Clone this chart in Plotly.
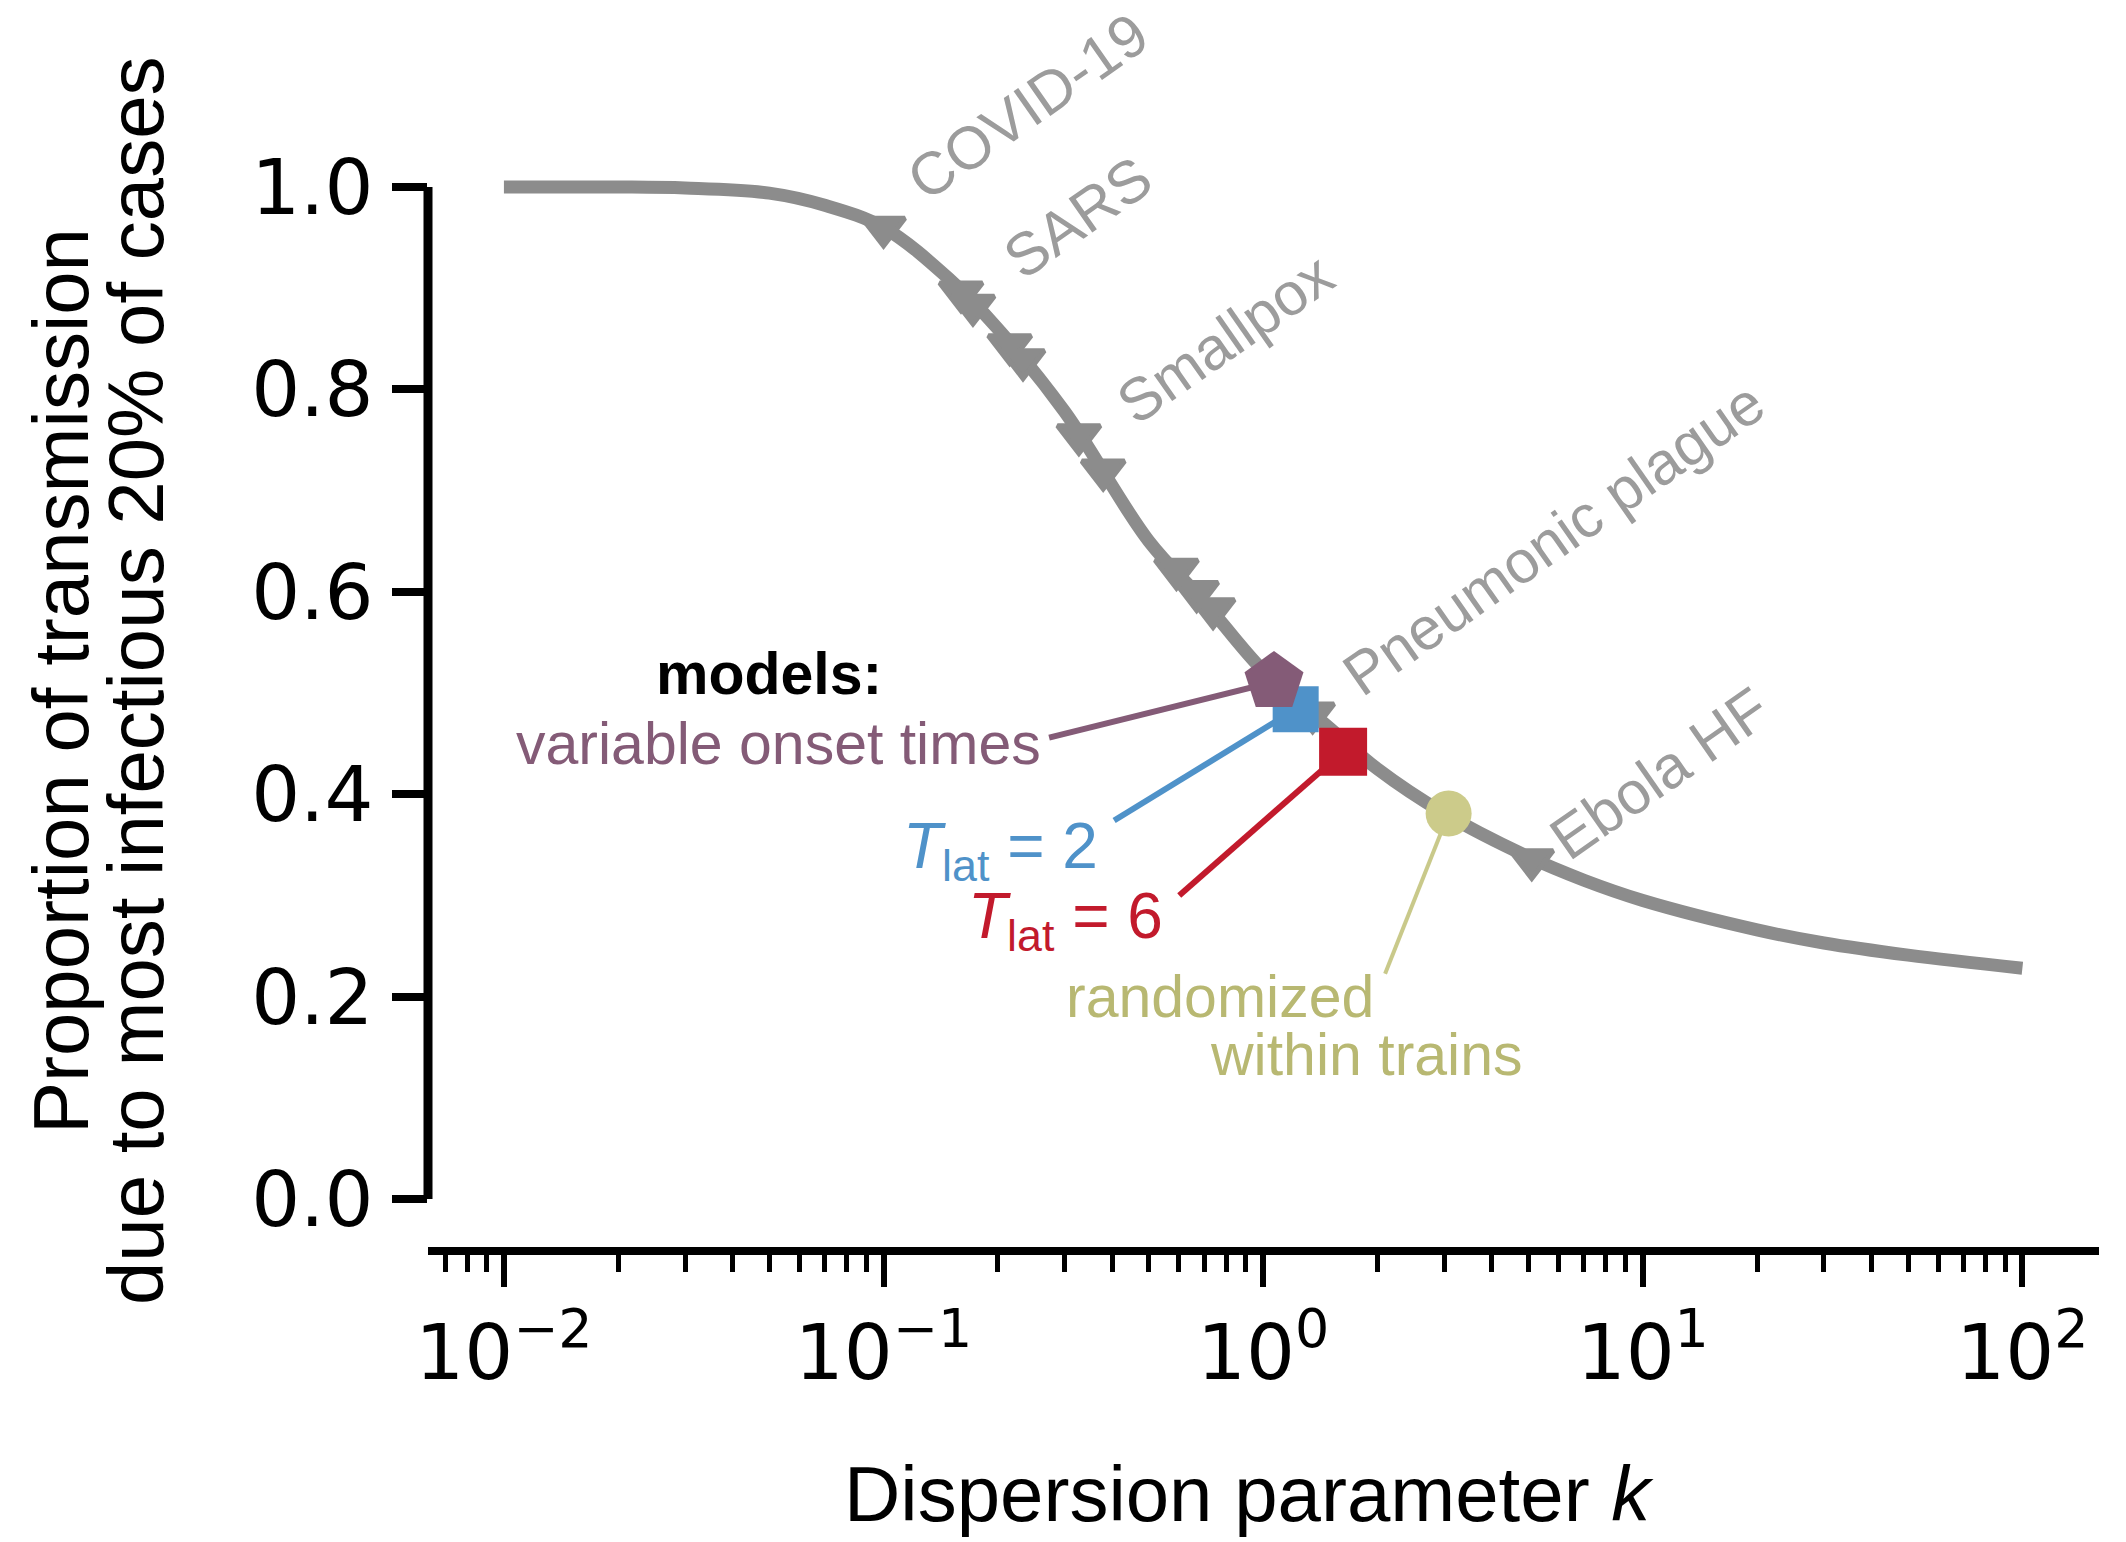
import math
import plotly.graph_objects as go

# ---------------- data ----------------
curve_k = [0.01, 0.02, 0.03, 0.05, 0.07, 0.1, 0.15, 0.2, 0.3, 0.5, 0.7,
           1.0, 1.5, 2.0, 3.0, 5.0, 7.0, 10.0, 20.0, 30.0, 50.0, 100.0]
curve_p = [1.000, 1.000, 0.999, 0.994, 0.982, 0.960, 0.908, 0.860, 0.778, 0.650, 0.590,
           0.522, 0.465, 0.425, 0.381, 0.338, 0.315, 0.295, 0.266, 0.253, 0.241, 0.228]

disease_k = [0.10, 0.16, 0.172, 0.215, 0.233, 0.327, 0.379, 0.591, 0.668, 0.738, 1.35, 5.1]
disease_p = [0.960, 0.896, 0.883, 0.844, 0.829, 0.755, 0.720, 0.622, 0.600, 0.583, 0.480, 0.335]

disease_labels = ["COVID-19", "SARS", "Smallpox", "Pneumonic plague", "Ebola HF"]

model_names = ["variable onset times", "T_lat = 2", "T_lat = 6", "randomized within trains"]
model_k = [1.068, 1.218, 1.624, 3.08]
model_p = [0.511, 0.484, 0.442, 0.381]

x_tickvals = [0.01, 0.1, 1, 10, 100]
x_ticktext = ["10<sup>\u22122</sup>", "10<sup>\u22121</sup>", "10<sup>0</sup>",
              "10<sup>1</sup>", "10<sup>2</sup>"]
y_tickvals = [0.0, 0.2, 0.4, 0.6, 0.8, 1.0]

# ---------------- styles / layout positions ----------------
GRAY = "#8c8c8c"
LABEL_GRAY = "#9c9c9c"
model_colors = ["#845b77", "#4f92c9", "#c21a2c", "#cccb8a"]
line_colors = ["#845b77", "#4f92c9", "#c21a2c", "#c9c98a"]
model_text_colors = ["#845b77", "#4f92c9", "#c21a2c", "#b8b872"]
model_symbols = ["pentagon", "square", "square", "circle"]
model_sizes = [62, 46, 48, 46]
model_order = [1, 2, 0, 3]  # draw order (pentagon above blue square)

# leader line start points (label side), data coords (k, p)
leader_start = [(0.273, 0.456), (0.405, 0.374), (0.601, 0.300), (2.095, 0.2225)]
leader_width = [6, 6, 6, 4]

# disease label centres (k, p)
disease_label_pos = [(0.240, 1.080), (0.325, 0.970), (0.798, 0.850), (5.83, 0.653), (11.1, 0.420)]

FS_DIS = 60
FS_MOD = 59
ANN_FONT = "Liberation Sans, Arial, sans-serif"
TICK_FONT = "DejaVu Sans, sans-serif"

fig = go.Figure()

# leader lines
for i in range(len(model_k)):
    fig.add_trace(go.Scatter(
        x=[leader_start[i][0], model_k[i]], y=[leader_start[i][1], model_p[i]],
        mode="lines", line=dict(color=line_colors[i], width=leader_width[i]),
        hoverinfo="skip", showlegend=False))

# main curve
fig.add_trace(go.Scatter(
    x=curve_k, y=curve_p, mode="lines",
    line=dict(color=GRAY, width=13, shape="spline", smoothing=1.0),
    hoverinfo="skip", showlegend=False))

# disease estimates
fig.add_trace(go.Scatter(
    x=disease_k, y=disease_p, mode="markers",
    marker=dict(symbol="triangle-down", size=37, color=GRAY,
                line=dict(width=5, color=GRAY)),
    showlegend=False))

# model markers
for i in model_order:
    fig.add_trace(go.Scatter(
        x=[model_k[i]], y=[model_p[i]], mode="markers",
        marker=dict(symbol=model_symbols[i], size=model_sizes[i], color=model_colors[i],
                    line=dict(width=0)),
        showlegend=False, name=model_names[i]))

annotations = []
# disease labels
for name, (kx, py) in zip(disease_labels, disease_label_pos):
    annotations.append(dict(
        x=math.log10(kx), y=py, xref="x", yref="y", text=name, showarrow=False, textangle=-35,
        xanchor="center", yanchor="middle",
        font=dict(family=ANN_FONT, size=FS_DIS, color=LABEL_GRAY)))

# model labels: (text, k, p, color, size)
model_text = [
    ("<b>models:</b>", 0.100, 0.519, "#000000", FS_MOD),
    ("variable onset times", 0.2636, 0.450, model_text_colors[0], FS_MOD),
    ("<i>T</i><sub>lat</sub> = 2", 0.3725, 0.345, model_text_colors[1], 64),
    ("<i>T</i><sub>lat</sub> = 6", 0.553, 0.276, model_text_colors[2], 64),
    ("randomized", 1.977, 0.200, model_text_colors[3], FS_MOD),
    ("within trains", 4.887, 0.142, model_text_colors[3], FS_MOD),
]
for txt, kx, py, col, fs in model_text:
    annotations.append(dict(
        x=math.log10(kx), y=py, xref="x", yref="y", text=txt, showarrow=False,
        xanchor="right", yanchor="middle",
        font=dict(family=ANN_FONT, size=fs, color=col)))

# axis titles
annotations.append(dict(
    x=0.4913, y=-0.2081, xref="paper", yref="paper",
    text="Dispersion parameter <i>k</i>", showarrow=False,
    xanchor="center", yanchor="middle",
    font=dict(family=ANN_FONT, size=78, color="#000000")))
annotations.append(dict(
    x=-0.2196, y=0.4768, xref="paper", yref="paper",
    text="Proportion of transmission", showarrow=False, textangle=-90,
    xanchor="center", yanchor="middle",
    font=dict(family=ANN_FONT, size=78, color="#000000")))
annotations.append(dict(
    x=-0.1747, y=0.4768, xref="paper", yref="paper",
    text="due to most infectious 20% of cases", showarrow=False, textangle=-90,
    xanchor="center", yanchor="middle",
    font=dict(family=ANN_FONT, size=78, color="#000000")))

minor_vals = [m * 10.0 ** e for e in range(-3, 3) for m in range(2, 10)]

fig.update_layout(
    width=2126, height=1542,
    margin=dict(l=428, r=27, t=60, b=295),
    paper_bgcolor="white", plot_bgcolor="white",
    annotations=annotations,
    xaxis=dict(
        type="log", range=[-2.200, 2.2018],
        showgrid=False, zeroline=False,
        showline=True, linecolor="black", linewidth=8,
        ticks="outside", ticklen=32, tickwidth=6, tickcolor="black",
        tickvals=x_tickvals, ticktext=x_ticktext,
        tickfont=dict(family=TICK_FONT, size=77, color="black"),
        ticklabelstandoff=0,
        minor=dict(tickvals=minor_vals, ticks="outside", ticklen=17, tickwidth=5,
                   tickcolor="black", showgrid=False),
    ),
    yaxis=dict(
        range=[-0.0474, 1.1255],
        showgrid=False, zeroline=False, showline=False,
        ticks="outside", ticklen=35, tickwidth=8, tickcolor="black",
        tickvals=y_tickvals, tickformat=".1f",
        tickfont=dict(family=TICK_FONT, size=77, color="black"),
        ticklabelstandoff=3,
    ),
    shapes=[dict(type="line", xref="paper", yref="y", x0=0, x1=0, y0=0, y1=1,
                 line=dict(color="black", width=9), layer="above")],
)

fig.write_html("out.html", config={"displayModeBar": False},
               post_script="document.body.style.margin='0';")
